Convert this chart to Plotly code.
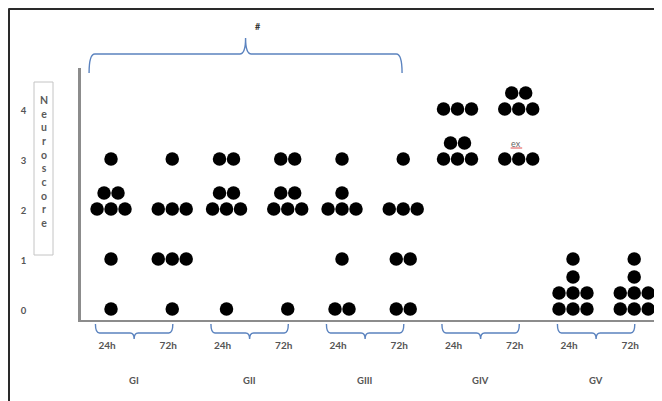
import plotly.graph_objects as go

# ---------------- data ----------------
groups = ["GI", "GII", "GIII", "GIV", "GV"]
times = ["24h", "72h"]
y_ticks = [0, 1, 2, 3, 4]

# individual neuroscores (n = 8 animals per group / time point)
GI_24h = [3, 2, 2, 2, 2, 2, 1, 0]
GI_72h = [3, 2, 2, 2, 1, 1, 1, 0]
GII_24h = [3, 3, 2, 2, 2, 2, 2, 0]
GII_72h = [3, 3, 2, 2, 2, 2, 2, 0]
GIII_24h = [3, 2, 2, 2, 2, 1, 0, 0]
GIII_72h = [3, 2, 2, 2, 1, 1, 0, 0]
GIV_24h = [4, 4, 4, 3, 3, 3, 3, 3]
GIV_72h = [4, 4, 4, 4, 4, 3, 3, 3]
GV_24h = [1, 0, 0, 0, 0, 0, 0, 0]
GV_72h = [1, 0, 0, 0, 0, 0, 0, 0]

series = [
    [GI_24h, GI_72h],
    [GII_24h, GII_72h],
    [GIII_24h, GIII_72h],
    [GIV_24h, GIV_72h],
    [GV_24h, GV_72h],
]

excluded_label = "ex"          # shown in GIV 72h at score 3
excluded_group, excluded_time, excluded_score = 3, 1, 3
sig_label = "#"                # GI-GIII bracket
sig_groups = (0, 2)
y_title = "Neuroscore"

# ---------------- layout constants ----------------
OFF = 8                        # page body margin
W, H = 662 - OFF, 401 - OFF
ML, MR, MT, MB = 73, 7, 60, 81
GROUP_STEP = 2.0
TIME_STEP = 1.06
DOT_DX = 0.242
ROW_DY = 0.32
PER_ROW = 3
XR = [-0.52, 9.42]
YR = [-0.22, 4.82]
PLOT_H = H - MT - MB
PLOT_W = W - ML - MR


def py(p):
    """page pixel row -> paper y"""
    return (H - MB - (p - OFF)) / PLOT_H


def px(p):
    """page pixel column -> paper x"""
    return (p - OFF - ML) / PLOT_W


def col_x(g, t):
    return GROUP_STEP * g + TIME_STEP * t


xs, ys = [], []
tickvals, ticktext = [], []
for gi, g in enumerate(groups):
    for ti, t in enumerate(times):
        cx = col_x(gi, ti)
        tickvals.append(cx)
        ticktext.append(f"<b>{t}</b>")
        vals = series[gi][ti]
        for s in sorted(set(vals)):
            n = vals.count(s)
            row = 0
            while n > 0:
                k = min(PER_ROW, n)
                for j in range(k):
                    xs.append(cx + (j - (k - 1) / 2) * DOT_DX)
                    ys.append(s + row * ROW_DY)
                n -= k
                row += 1

fig = go.Figure()
fig.add_trace(go.Scatter(
    x=xs, y=ys, mode="markers",
    marker=dict(size=13.5, color="black", line=dict(width=0)),
    hoverinfo="skip", cliponaxis=False,
))

FONT = "Lato, Open Sans, sans-serif"
TXT = "#555555"
BLUE = "#5b83bf"

fig.update_layout(
    width=W, height=H,
    margin=dict(l=ML, r=MR, t=MT, b=MB),
    plot_bgcolor="white", paper_bgcolor="white",
    showlegend=False,
    font=dict(family=FONT, color=TXT, size=10),
    xaxis=dict(
        range=XR, showgrid=False, zeroline=False,
        showline=True, linecolor="#8c8c8c", linewidth=2,
        tickvals=tickvals, ticktext=ticktext, ticks="",
        tickfont=dict(family=FONT, size=10, color=TXT),
        ticklabelstandoff=15, ticklabelshift=-4,
    ),
    yaxis=dict(
        range=YR, showgrid=False, zeroline=False,
        showline=True, linecolor="#8c8c8c", linewidth=2.5,
        tickvals=y_ticks, ticktext=[f"<b>{v}</b>" for v in y_ticks], ticks="",
        tickfont=dict(family=FONT, size=9.5, color=TXT),
        ticklabelstandoff=50, ticklabelshift=2,
    ),
)

shapes = []
annotations = []


def brace(xa, xb, xm, y_end, y_bar, y_tip, r=0.07):
    """curly brace path; x in data units, y in paper units"""
    d = (f"M {xa},{y_end} Q {xa},{y_bar} {xa + r},{y_bar} "
         f"L {xm - r},{y_bar} Q {xm},{y_bar} {xm},{y_tip} "
         f"Q {xm},{y_bar} {xm + r},{y_bar} "
         f"L {xb - r},{y_bar} Q {xb},{y_bar} {xb},{y_end}")
    return dict(type="path", path=d, xref="x", yref="paper",
                line=dict(color=BLUE, width=1.4), layer="above")


# group braces under the x axis + group labels
for gi, g in enumerate(groups):
    a = col_x(gi, 0) - 0.27
    b = col_x(gi, 1) + 0.01
    m = col_x(gi, 0) + 0.40
    shapes.append(brace(a, b, m, py(324), py(333), py(339)))
    annotations.append(dict(x=m, y=py(380), xref="x", yref="paper",
                            text=f"<b>{g}</b>", showarrow=False,
                            xanchor="center", yanchor="middle",
                            font=dict(family=FONT, size=9.5, color=TXT)))

# significance brace over GI..GIII
a = col_x(sig_groups[0], 0) - 0.38
b = col_x(sig_groups[1], 1) - 0.02
m = (a + b) / 2
shapes.append(brace(a, b, m, py(73), py(54), py(38), r=0.1))
annotations.append(dict(x=m + 0.22, y=py(27), xref="x", yref="paper",
                        text=f"<b>{sig_label}</b>", showarrow=False,
                        xanchor="center", yanchor="middle",
                        font=dict(family=FONT, size=9, color="#333")))

# excluded animal marker
ex_x = col_x(excluded_group, excluded_time)
ex_y = excluded_score + ROW_DY
annotations.append(dict(x=ex_x - 0.04, y=ex_y, xref="x", yref="y",
                        text=excluded_label, showarrow=False,
                        xanchor="center", yanchor="middle",
                        font=dict(family=FONT, size=9, color="#666")))
shapes.append(dict(type="line", xref="x", yref="y",
                   x0=ex_x - 0.14, x1=ex_x + 0.06,
                   y0=ex_y - 0.1, y1=ex_y - 0.1,
                   line=dict(color="#e05050", width=1)))

# y-axis title box with vertical stacked letters
shapes.append(dict(type="rect", xref="paper", yref="paper",
                   x0=px(34), x1=px(53), y0=py(255), y1=py(82),
                   line=dict(color="#c4c4c4", width=1), fillcolor="white"))
annotations.append(dict(x=px(43.5), y=py(161), xref="paper", yref="paper",
                        text="<br>".join(f"<b>{c}</b>" for c in y_title),
                        showarrow=False,
                        font=dict(family=FONT, size=10.5, color="#5a5a5a"),
                        yanchor="middle", xanchor="center"))

# outer frame (top and left edges visible)
shapes.append(dict(type="line", xref="paper", yref="paper",
                   x0=px(8.5), x1=px(663), y0=py(8.5), y1=py(8.5),
                   line=dict(color="#2a2a2a", width=3)))
shapes.append(dict(type="line", xref="paper", yref="paper",
                   x0=px(8.5), x1=px(8.5), y0=py(8.5), y1=py(402),
                   line=dict(color="#2a2a2a", width=3)))

fig.update_layout(shapes=shapes, annotations=annotations)
fig.write_html("out.html")
